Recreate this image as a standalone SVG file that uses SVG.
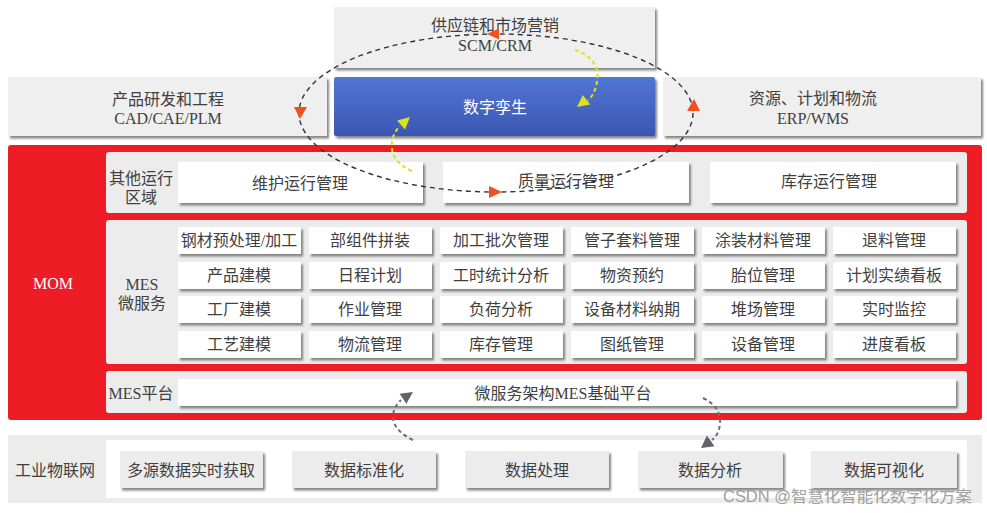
<svg xmlns="http://www.w3.org/2000/svg" width="987" height="513" viewBox="0 0 987 513">
<defs>
<filter id="sh" x="-5%" y="-15%" width="112%" height="140%"><feDropShadow dx="2" dy="2.5" stdDeviation="1.2" flood-color="#6f6f6f" flood-opacity="0.85"/></filter>
<linearGradient id="blue" x1="0" y1="0" x2="0" y2="1"><stop offset="0" stop-color="#5276d2"/><stop offset="1" stop-color="#3b56b2"/></linearGradient>
</defs>
<style>
text{font-family:"Liberation Serif","Noto Sans CJK SC",serif;font-size:16px;fill:#3f3f3f;text-anchor:middle}
.w{fill:#ffffff}
.top{fill:#efefef}
.panel{fill:#ececec}
.box{fill:#ffffff}
.gbox{fill:#ececec}
.wm{font-family:"Liberation Sans","Noto Sans CJK SC",sans-serif;fill:#a0a0a0;text-anchor:start;font-size:16px}
.ell{fill:none;stroke:#333;stroke-width:1.4;stroke-dasharray:5 4}
.ya{fill:none;stroke:#dce21c;stroke-width:2;stroke-dasharray:4 3}
.ga{fill:none;stroke:#6a6e78;stroke-width:2;stroke-dasharray:4 3}
.oh{fill:#f0501e}
.yh{fill:#dce21c}
.gh{fill:#5f636c}
</style>
<rect width="987" height="513" fill="#ffffff"/>

<g id="scm"><rect class="top" x="334" y="7" width="321" height="61" filter="url(#sh)"/><text x="495" y="31">供应链和市场营销</text><text x="495" y="51">SCM/CRM</text></g>
<g id="plm"><rect class="top" x="8" y="77" width="319" height="59" filter="url(#sh)"/><text x="168" y="105">产品研发和工程</text><text x="168" y="124">CAD/CAE/PLM</text></g>
<g id="twin"><rect fill="url(#blue)" x="334" y="77" width="321" height="59" rx="2" filter="url(#sh)"/><text class="w" x="495" y="113">数字孪生</text></g>
<g id="erp"><rect class="top" x="663" y="77" width="318" height="59" filter="url(#sh)"/><text x="813" y="104">资源、计划和物流</text><text x="813" y="124">ERP/WMS</text></g>

<g id="mom"><rect fill="#ee1c25" x="8" y="145" width="974" height="275" rx="3"/><text class="w" x="53" y="289">MOM</text></g>

<g id="other"><rect class="panel" x="106" y="152" width="861" height="61" rx="3"/><text x="141" y="184">其他运行</text><text x="141" y="203">区域</text>
<rect class="box" x="178" y="162" width="245" height="41" filter="url(#sh)"/><text x="300" y="189">维护运行管理</text>
<rect class="box" x="443" y="162" width="246" height="41" filter="url(#sh)"/><text x="566" y="187">质量运行管理</text>
<rect class="box" x="710" y="162" width="246" height="41" filter="url(#sh)"/><text x="829" y="187">库存运行管理</text></g>

<g id="mes"><rect class="panel" x="106" y="220" width="861" height="144" rx="3"/><text x="142" y="290">MES</text><text x="142" y="309">微服务</text>
<g filter="url(#sh)">
<rect class="box" x="178" y="227" width="123" height="27"/><rect class="box" x="309" y="227" width="123" height="27"/><rect class="box" x="440" y="227" width="123" height="27"/><rect class="box" x="571" y="227" width="123" height="27"/><rect class="box" x="702" y="227" width="123" height="27"/><rect class="box" x="833" y="227" width="123" height="27"/>
<rect class="box" x="178" y="262" width="123" height="27"/><rect class="box" x="309" y="262" width="123" height="27"/><rect class="box" x="440" y="262" width="123" height="27"/><rect class="box" x="571" y="262" width="123" height="27"/><rect class="box" x="702" y="262" width="123" height="27"/><rect class="box" x="833" y="262" width="123" height="27"/>
<rect class="box" x="178" y="296" width="123" height="27"/><rect class="box" x="309" y="296" width="123" height="27"/><rect class="box" x="440" y="296" width="123" height="27"/><rect class="box" x="571" y="296" width="123" height="27"/><rect class="box" x="702" y="296" width="123" height="27"/><rect class="box" x="833" y="296" width="123" height="27"/>
<rect class="box" x="178" y="331" width="123" height="27"/><rect class="box" x="309" y="331" width="123" height="27"/><rect class="box" x="440" y="331" width="123" height="27"/><rect class="box" x="571" y="331" width="123" height="27"/><rect class="box" x="702" y="331" width="123" height="27"/><rect class="box" x="833" y="331" width="123" height="27"/>
</g>
<text x="239" y="246">钢材预处理/加工</text><text x="370" y="246">部组件拼装</text><text x="501" y="246">加工批次管理</text><text x="632" y="246">管子套料管理</text><text x="763" y="246">涂装材料管理</text><text x="894" y="246">退料管理</text>
<text x="239" y="281">产品建模</text><text x="370" y="281">日程计划</text><text x="501" y="281">工时统计分析</text><text x="632" y="281">物资预约</text><text x="763" y="281">胎位管理</text><text x="894" y="281">计划实绩看板</text>
<text x="239" y="315">工厂建模</text><text x="370" y="315">作业管理</text><text x="501" y="315">负荷分析</text><text x="632" y="315">设备材料纳期</text><text x="763" y="315">堆场管理</text><text x="894" y="315">实时监控</text>
<text x="239" y="350">工艺建模</text><text x="370" y="350">物流管理</text><text x="501" y="350">库存管理</text><text x="632" y="350">图纸管理</text><text x="763" y="350">设备管理</text><text x="894" y="350">进度看板</text>
</g>

<g id="platform"><rect class="panel" x="106" y="371" width="861" height="42" rx="3"/><text x="141" y="399">MES平台</text><rect class="box" x="178" y="379" width="778" height="27" filter="url(#sh)"/><text x="563" y="399">微服务架构MES基础平台</text></g>

<g id="iot"><rect class="panel" x="8" y="435" width="974" height="68"/><rect fill="#ffffff" x="106" y="440" width="861" height="58"/><text x="55" y="476">工业物联网</text>
<g filter="url(#sh)"><rect class="gbox" x="120" y="451" width="143" height="37"/><rect class="gbox" x="292" y="451" width="144" height="37"/><rect class="gbox" x="465" y="451" width="144" height="37"/><rect class="gbox" x="638" y="451" width="145" height="37"/><rect class="gbox" x="811" y="451" width="146" height="37"/></g>
<text x="191" y="476">多源数据实时获取</text><text x="364" y="476">数据标准化</text><text x="537" y="476">数据处理</text><text x="710" y="476">数据分析</text><text x="884" y="476">数据可视化</text></g>

<g id="connectors">
<ellipse class="ell" cx="496" cy="113" rx="197" ry="79"/>
<polygon class="oh" points="487,34 499,28.5 499,39.5"/>
<polygon class="oh" points="294,107 307,107 300,119"/>
<polygon class="oh" points="489,186 489,198 502,192"/>
<polygon class="oh" points="687,111 700,111 694,99"/>
<path class="ya" d="M575,50 C592,55 600,68 597,82 C595,92 592,97 588,100"/>
<polygon class="yh" points="577,107 590.2,104.4 582.8,95"/>
<path class="ya" d="M412,171 C398,165 390,155 392,142 C393,135 396,130 400,126"/>
<polygon class="yh" points="410,117 405.1,129.4 397.1,120.6"/>
<path class="ga" d="M413,440 C400,434 392,425 393,415 C394,408 397,404 401,400"/>
<polygon class="gh" points="413,392 406.4,403.7 399.6,393.7"/>
<path class="ga" d="M703,398 C715,404 721,412 720,424 C719,432 716,437 712,440"/>
<polygon class="gh" points="701,448 714.5,446.2 706.9,435.6"/>
</g>
<text class="wm" x="723" y="502" textLength="249" lengthAdjust="spacingAndGlyphs">CSDN @智慧化智能化数字化方案</text>
</svg>
